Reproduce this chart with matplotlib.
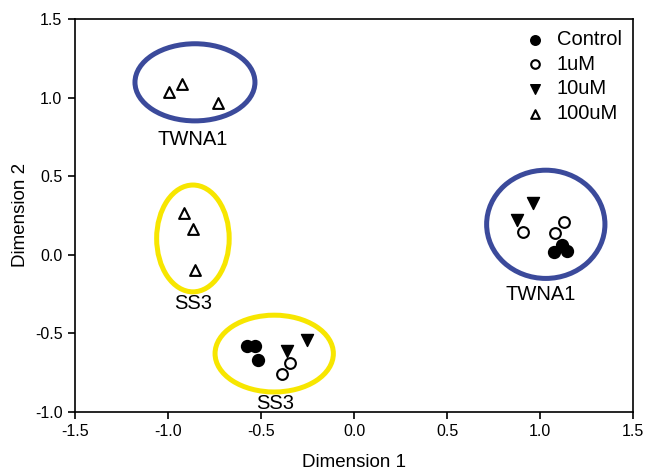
import matplotlib
matplotlib.use("Agg")
import matplotlib.pyplot as plt
from matplotlib.patches import Ellipse

plt.rcParams['font.family'] = ['Liberation Sans', 'DejaVu Sans']

# Coordenadas (Dimension 1, Dimension 2)
control_x = [-0.577, -0.532, -0.515, 1.075, 1.117, 1.144]
control_y = [-0.584, -0.584, -0.668, 0.018, 0.061, 0.022]

um1_x = [-0.344, -0.389, 0.910, 1.129, 1.081]
um1_y = [-0.688, -0.758, 0.145, 0.209, 0.139]

um10_x = [-0.359, -0.254, 0.964, 0.875]
um10_y = [-0.614, -0.541, 0.327, 0.220]

um100_x = [-0.995, -0.925, -0.731, -0.912, -0.867, -0.855]
um100_y = [1.036, 1.087, 0.966, 0.263, 0.161, -0.099]

# Elipses dos grupos: centro x, centro y, largura, altura
ell_cx = [-0.855, -0.866, -0.429, 1.031]
ell_cy = [1.097, 0.103, -0.630, 0.193]
ell_w = [0.645, 0.390, 0.636, 0.636]
ell_h = [0.491, 0.680, 0.489, 0.689]
ell_color = ['#3b4a9b', '#f7e600', '#f7e600', '#3b4a9b']

group_labels = ['TWNA1', 'SS3', 'SS3', 'TWNA1']
label_x = [-0.866, -0.866, -0.425, 1.005]
label_y = [0.730, -0.309, -0.947, -0.252]

fig = plt.figure(figsize=(6.47, 4.73), dpi=100)
ax = fig.add_axes([0.1159, 0.1296, 0.8625, 0.8302])

for cx, cy, w, h, c in zip(ell_cx, ell_cy, ell_w, ell_h, ell_color):
    ax.add_patch(Ellipse((cx, cy), w, h, fill=False, edgecolor=c, linewidth=3.6, zorder=1))

ax.scatter(control_x, control_y, s=70, marker='o', facecolor='black', edgecolor='black',
           linewidth=1.2, label='Control', zorder=3)
ax.scatter(um1_x, um1_y, s=60, marker='o', facecolor='white', edgecolor='black',
           linewidth=1.5, label='1uM', zorder=3)
ax.scatter(um10_x, um10_y, s=75, marker='v', facecolor='black', edgecolor='black',
           linewidth=1.0, label='10uM', zorder=3)
ax.scatter(um100_x, um100_y, s=60, marker='^', facecolor='white', edgecolor='black',
           linewidth=1.5, label='100uM', zorder=3)

for t, x, y in zip(group_labels, label_x, label_y):
    ax.text(x, y, t, ha='center', va='center', fontsize=14.5)

ax.set_xlim(-1.5, 1.5)
ax.set_ylim(-1.0, 1.5)
ax.set_xticks([-1.5, -1.0, -0.5, 0.0, 0.5, 1.0, 1.5])
ax.set_yticks([-1.0, -0.5, 0.0, 0.5, 1.0, 1.5])
ax.set_xticklabels(['-1.5', '-1.0', '-0.5', '0.0', '0.5', '1.0', '1.5'])
ax.set_yticklabels(['-1.0', '-0.5', '0.0', '0.5', '1.0', '1.5'])
ax.tick_params(direction='out', length=5, width=1.2, labelsize=11.5, pad=4,
               top=False, right=False)
for s in ax.spines.values():
    s.set_linewidth(1.2)

ax.set_xlabel('Dimension 1', fontsize=13.5, labelpad=11)
ax.set_ylabel('Dimension 2', fontsize=13.5, labelpad=4)

leg = ax.legend(loc='upper right', bbox_to_anchor=(0.987, 0.982), frameon=False,
                fontsize=14.5, handletextpad=0.6, labelspacing=0.28, borderaxespad=0.0,
                markerscale=0.8, handlelength=1.0, borderpad=0.2)

fig.savefig('out.png', dpi=100)
